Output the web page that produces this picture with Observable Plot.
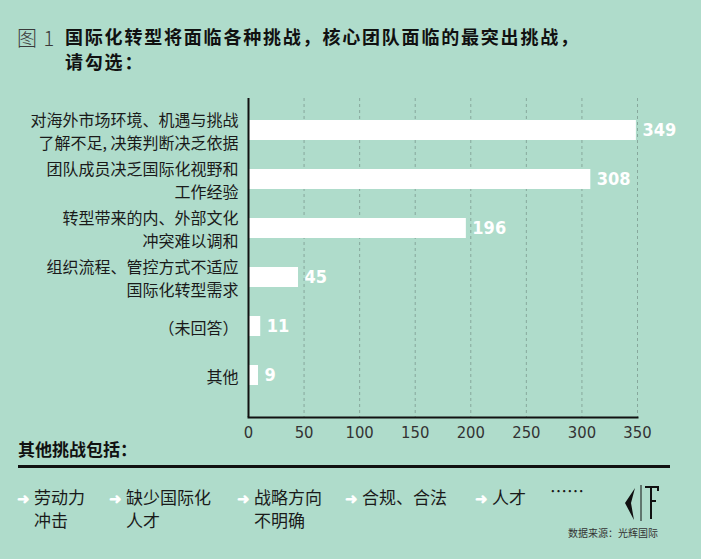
<!DOCTYPE html>
<html><head><meta charset="utf-8">
<script src="https://cdn.jsdelivr.net/npm/d3@7"></script>
<script src="https://cdn.jsdelivr.net/npm/@observablehq/plot@0.6"></script>
<style>
html,body{margin:0;padding:0;background:#afdccb;}
#wrap{position:relative;width:701px;height:559px;background:#afdccb;font-family:"Noto Sans CJK SC","Noto Sans",sans-serif;color:#1a1a1a;overflow:hidden;}
.abs{position:absolute;white-space:nowrap;}
#fig{left:17px;top:23px;font-size:20px;color:#3a3a3a;font-weight:300;letter-spacing:1px;}
#title{left:65px;top:24px;font-size:18px;font-weight:bold;line-height:25px;color:#111;letter-spacing:1.8px;}
#chart{left:0;top:90px;}
#other{left:18px;top:436px;font-size:17px;font-weight:bold;color:#111;}
#rule{left:18px;top:465px;width:652px;height:3px;background:#111;}
.item{font-size:17px;line-height:22px;color:#1a1a1a;top:486px;}
.arrow{color:#fff;font-size:15px;font-weight:bold;display:inline-block;width:17px;}
#src{left:568px;top:525px;font-size:10px;color:#333;}
</style></head>
<body><div id="wrap">
<div id="fig" class="abs">图 1</div>
<div id="title" class="abs"></div>
<div id="chart" class="abs"></div>
<div id="other" class="abs"></div>
<div id="rule" class="abs"></div>
<div id="items"></div>
<svg class="abs" style="left:620px;top:483px" width="44" height="40" viewBox="0 0 44 40">
  <path d="M15 5 L5 20 L14 37 L11 20 Z" fill="#111"/>
  <line x1="21" y1="2" x2="21" y2="38" stroke="#111" stroke-width="1"/>
  <path d="M25 4 L38 4 L38 8 M31 4 L31 36 M31 18 L36 18" fill="none" stroke="#111" stroke-width="2"/>
</svg>
<div id="src" class="abs"></div>
</div>
<script>
const figTitle = ["国际化转型将面临各种挑战，核心团队面临的最突出挑战，", "请勾选："];
const categories = [
  "对海外市场环境、机遇与挑战\n了解不足, 决策判断决乏依据",
  "团队成员决乏国际化视野和\n工作经验",
  "转型带来的内、外部文化\n冲突难以调和",
  "组织流程、管控方式不适应\n国际化转型需求",
  "（未回答）",
  "其他"
];
const values = [349, 308, 196, 45, 11, 9];
const xTicks = [0, 50, 100, 150, 200, 250, 300, 350];
const otherTitle = "其他挑战包括：";
const otherItems = ["劳动力\n冲击", "缺少国际化\n人才", "战略方向\n不明确", "合规、合法", "人才"];
const itemLeft = [17, 109, 237, 345, 475];
const sourceText = "数据来源：光辉国际";

document.getElementById("title").innerHTML = figTitle.join("<br>");
document.getElementById("other").textContent = otherTitle;
document.getElementById("src").textContent = sourceText;
const items = document.getElementById("items");
otherItems.forEach((t, i) => {
  const lines = t.split("\n");
  const d = document.createElement("div");
  d.className = "abs item";
  d.style.left = itemLeft[i] + "px";
  d.innerHTML = `<span class="arrow">➜</span>${lines[0]}` + (lines[1] ? `<br><span style="padding-left:17px">${lines[1]}</span>` : "");
  items.appendChild(d);
});
const dots = document.createElement("div");
dots.className = "abs item";
dots.style.left = "550px";
dots.style.top = "480px";
dots.textContent = "……";
items.appendChild(dots);

const data = categories.map((c, i) => ({category: c, value: values[i]}));
const condensed = '"DejaVu Sans Condensed","Liberation Sans Narrow","DejaVu Sans",sans-serif';

const chart = Plot.plot({
  width: 701,
  height: 358,
  marginTop: 8,
  marginBottom: 31,
  marginLeft: 248,
  marginRight: 64,
  style: {background: "transparent", fontFamily: '"Noto Sans CJK SC",sans-serif', color: "#1a1a1a", overflow: "visible"},
  x: {domain: [0, 350]},
  y: {domain: categories, padding: 0.6, paddingOuter: 0.52, align: 0.41},
  marks: [
    Plot.gridX(xTicks.slice(1), {stroke: "#7d9a90", strokeOpacity: 0.8, strokeDasharray: "3,3", strokeWidth: 1}),
    Plot.barX(data, {x: "value", y: "category", fill: "#ffffff"}),
    Plot.text(data, {x: "value", y: "category", text: d => String(d.value), textAnchor: "start", dx: 6, fill: "#ffffff", fontWeight: "bold", fontSize: 18, fontFamily: condensed}),
    Plot.axisY({tickSize: 0, tickPadding: 10, fontSize: 16, lineHeight: 1.4, label: null, textAnchor: "end"}),
    Plot.axisX(xTicks, {tickSize: 0, tickPadding: 9, fontSize: 16.5, fontFamily: condensed, label: null, fill: "#333"}),
    Plot.ruleX([0], {stroke: "#111", strokeWidth: 2}),
    Plot.frame({anchor: "bottom", stroke: "#111", strokeWidth: 2})
  ]
});
document.getElementById("chart").appendChild(chart);
</script>
</body></html>
